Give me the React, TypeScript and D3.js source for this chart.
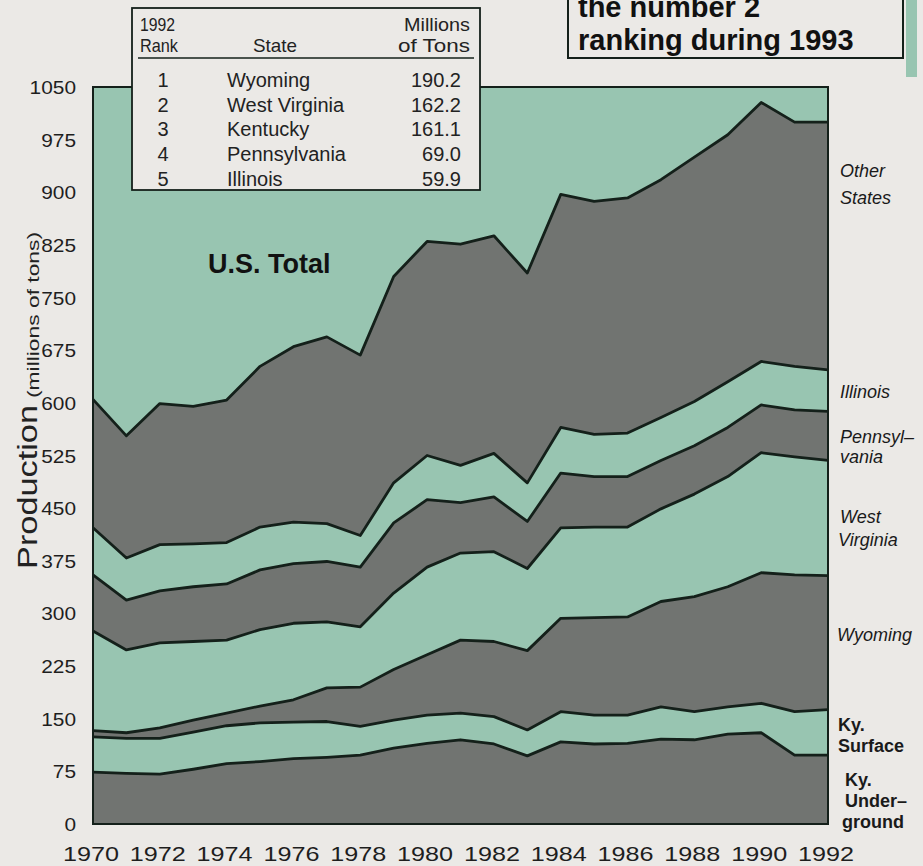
import React from 'react';
import * as d3 from 'd3';

const years = [1970,1971,1972,1973,1974,1975,1976,1977,1978,1979,1980,1981,1982,1983,1984,1985,1986,1987,1988,1989,1990,1991,1992];
const kyUnderground = [74,72,71,78,86,89,93,95,98,108,115,120,114,97,117,114,115,121,120,128,130,98,98];
const kySurface = [50,50,51,53,54,55,52,51,41,40,40,38,39,37,43,41,40,46,40,39,42,62,65];
const wyoming = [9,8,15,17,18,24,32,48,56,72,86,104,107,113,133,139,140,150,164,171,186,195,191];
const westVirginia = [142,118,121,112,104,109,109,94,86,109,125,124,128,117,129,129,128,132,146,157,171,168,164];
const pennsylvania = [80,71,74,78,80,85,85,86,85,100,96,72,78,67,78,72,72,69,69,70,68,67,70];
const illinois = [67,60,66,61,59,61,59,54,45,57,63,53,62,55,65,60,62,61,63,65,62,62,59];
const otherStates = [183,174,201,196,203,229,250,266,257,294,305,315,310,299,332,332,335,339,348,352,369,348,353];

const seriesKeys = ['kyUnderground','kySurface','wyoming','westVirginia','pennsylvania','illinois','otherStates'];
const seriesData: Record<string, number[]> = { kyUnderground, kySurface, wyoming, westVirginia, pennsylvania, illinois, otherStates };

const yTicks = [0,75,150,225,300,375,450,525,600,675,750,825,900,975,1050];
const xTicks = [1970,1972,1974,1976,1978,1980,1982,1984,1986,1988,1990,1992];

const ranks = ['1','2','3','4','5'];
const states = ['Wyoming','West Virginia','Kentucky','Pennsylvania','Illinois'];
const tons = ['190.2','162.2','161.1','69.0','59.9'];

const TEAL = '#98c5b1';
const GRAY = '#717471';
const INK = '#14201a';
const PAPER = '#ebe9e6';
const FONT = '"Liberation Sans", Arial, Helvetica, sans-serif';

export default function App() {
  const W = 923, H = 866;
  const x = d3.scaleLinear().domain([1970, 1992]).range([93, 828]);
  const y = d3.scaleLinear().domain([0, 1050]).range([824, 87]);

  const rows = years.map((yr, i) => {
    const r: any = { year: yr };
    seriesKeys.forEach(k => { r[k] = seriesData[k][i]; });
    return r;
  });
  const stacked = d3.stack().keys(seriesKeys)(rows as any);
  const area = d3.area<any>().x(d => x(d.data.year)).y0(d => y(d[0])).y1(d => y(d[1]));
  const line = d3.line<any>().x(d => x(d.data.year)).y(d => y(d[1]));

  const rightLabels: { t: string; x: number; y: number; bold?: boolean }[] = [
    { t: 'Other', x: 840, y: 177 }, { t: 'States', x: 840, y: 204 },
    { t: 'Illinois', x: 840, y: 398 },
    { t: 'Pennsyl\u2013', x: 840, y: 443 }, { t: 'vania', x: 840, y: 463 },
    { t: 'West', x: 840, y: 523 }, { t: 'Virginia', x: 838, y: 546 },
    { t: 'Wyoming', x: 837, y: 641 },
    { t: 'Ky.', x: 838, y: 731, bold: true }, { t: 'Surface', x: 838, y: 752, bold: true },
    { t: 'Ky.', x: 845, y: 786, bold: true }, { t: 'Under\u2013', x: 845, y: 807, bold: true }, { t: 'ground', x: 842, y: 828, bold: true },
  ];

  return (
    <svg width={W} height={H} style={{ position: 'absolute', left: 0, top: 0, display: 'block' }} fontFamily={FONT}>
      <rect x={0} y={0} width={W} height={H} fill={PAPER} />
      {/* plot background */}
      <rect x={x(1970)} y={y(1050)} width={x(1992) - x(1970)} height={y(0) - y(1050)} fill={TEAL} />
      {stacked.map((s, i) => (
        <path key={s.key} d={area(s as any) || ''} fill={i % 2 === 0 ? GRAY : TEAL} />
      ))}
      {stacked.map(s => (
        <path key={'l' + s.key} d={line(s as any) || ''} fill="none" stroke={INK} strokeWidth={2.8} strokeLinejoin="round" />
      ))}
      <rect x={x(1970)} y={y(1050)} width={x(1992) - x(1970)} height={y(0) - y(1050)} fill="none" stroke={INK} strokeWidth={2} />

      {/* y ticks */}
      {yTicks.map(t => (
        <text key={t} x={76} y={y(t) + 7} textAnchor="end" fontSize={19} fill="#1e1e1e"
          textLength={String(t).length * 11.6} lengthAdjust="spacingAndGlyphs">{t}</text>
      ))}
      {/* x ticks */}
      {xTicks.map(t => (
        <text key={t} x={x(t) - 2} y={861} textAnchor="middle" fontSize={20} fill="#1e1e1e"
          textLength={56} lengthAdjust="spacingAndGlyphs">{t}</text>
      ))}
      {/* axis title */}
      <text transform="translate(37,487) rotate(-90)" textAnchor="middle" fontSize={27} fill="#222" textLength={164} lengthAdjust="spacingAndGlyphs">Production</text>
      <text transform="translate(39,315) rotate(-90)" textAnchor="middle" fontSize={17} fill="#222" textLength={166} lengthAdjust="spacingAndGlyphs">(millions of tons)</text>

      {/* U.S. Total */}
      <text x={208} y={273} fontSize={27} fontWeight="bold" fill="#111">U.S. Total</text>

      {/* right labels */}
      {rightLabels.map((l, i) => (
        <text key={i} x={l.x} y={l.y} fontSize={18} fontStyle={l.bold ? 'normal' : 'italic'} fontWeight={l.bold ? 'bold' : 'normal'} fill="#1a1a1a">{l.t}</text>
      ))}

      {/* table */}
      <rect x={132} y={8} width={348} height={182} fill={PAPER} stroke={INK} strokeWidth={1.8} />
      <text x={140} y={31} fontSize={19} fill="#222" textLength={35} lengthAdjust="spacingAndGlyphs">1992</text>
      <text x={140} y={52} fontSize={19} fill="#222" textLength={38} lengthAdjust="spacingAndGlyphs">Rank</text>
      <text x={275} y={52} fontSize={19} textAnchor="middle" fill="#222" textLength={44} lengthAdjust="spacingAndGlyphs">State</text>
      <text x={470} y={31} fontSize={19} textAnchor="end" fill="#222" textLength={66} lengthAdjust="spacingAndGlyphs">Millions</text>
      <text x={470} y={52} fontSize={19} textAnchor="end" fill="#222" textLength={72} lengthAdjust="spacingAndGlyphs">of  Tons</text>
      <line x1={138} x2={474} y1={58} y2={58} stroke={INK} strokeWidth={1.5} />
      {ranks.map((r, i) => (
        <g key={r}>
          <text x={163} y={87 + i * 24.7} fontSize={20} textAnchor="middle" fill="#222">{r}</text>
          <text x={227} y={87 + i * 24.7} fontSize={20} fill="#222">{states[i]}</text>
          <text x={461} y={87 + i * 24.7} fontSize={20} textAnchor="end" fill="#222">{tons[i]}</text>
        </g>
      ))}

      {/* top right box */}
      <rect x={906} y={0} width={11} height={77} fill={TEAL} />
      <rect x={568} y={-4} width={335} height={62} fill={PAPER} stroke={INK} strokeWidth={2} />
      <text x={578} y={17} fontSize={29} fontWeight="bold" fill="#111">the number 2</text>
      <text x={578} y={50} fontSize={29} fontWeight="bold" fill="#111">ranking during 1993</text>
    </svg>
  );
}
